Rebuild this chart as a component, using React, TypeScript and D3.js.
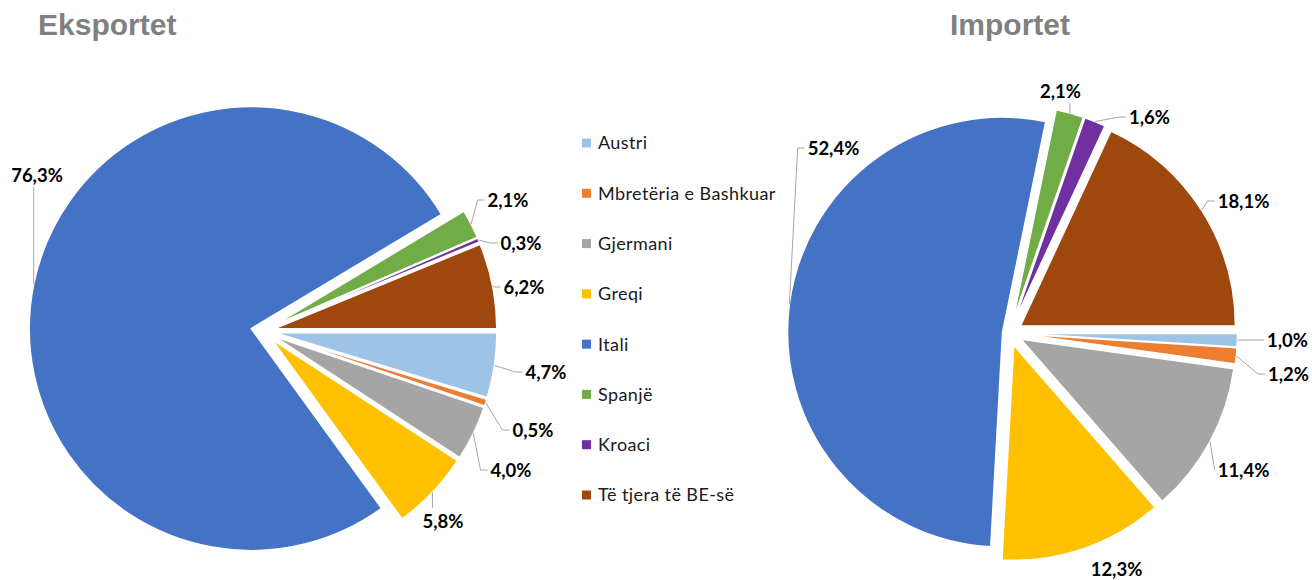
import React, { useEffect, useRef } from 'react';
import * as d3 from 'd3';

const categories = ['Austri', 'Mbretëria e Bashkuar', 'Gjermani', 'Greqi', 'Itali', 'Spanjë', 'Kroaci', 'Të tjera të BE-së'];
const sliceColors = ['#9DC3E6', '#ED7D31', '#A5A5A5', '#FFC000', '#4472C4', '#70AD47', '#7030A0', '#9E480E'];
const exportValues = [4.7, 0.5, 4.0, 5.8, 76.3, 2.1, 0.3, 6.2];
const importValues = [1.0, 1.2, 11.4, 12.3, 52.4, 2.1, 1.6, 18.1];

// label placement relative to pie centre: [dx, dy, leader mode]
const exportLabelPos = [[283, 41, 'h'], [270, 99, 'h'], [248, 139, 'h'], [180, 190, 'v'], [-226, -156, 'v'], [245, -131, 'h'], [258, -88, 'h'], [261, -44, 'h']];
const importLabelPos = [[278, 7, 'h'], [279, 41, 'h'], [234, 137, 'h'], [107, 236, 'none'], [-176, -185, 'h'], [51, -242, 'v'], [140, -216, 'h'], [234, -132, 'h']];

const W = 1312;
const H = 580;

const fmt = (v: number) => v.toFixed(1).replace('.', ',') + '%';

function drawPie(svg: any, values: number[], opts: any) {
    const { cx, cy, r, explode, labelPos } = opts;
    const g = svg.append('g').attr('transform', `translate(${cx},${cy})`);

    const pie = d3.pie<number>()
        .sort(null)
        .value(d => d)
        .startAngle(Math.PI / 2)
        .endAngle(Math.PI / 2 + 2 * Math.PI);
    const arc = d3.arc<any>().innerRadius(0).outerRadius(r);
    const arcs = pie(values);

    arcs.forEach((a, i) => {
        const mid = (a.startAngle + a.endAngle) / 2;
        const ex = explode[i];
        g.append('path')
            .attr('d', arc(a))
            .attr('transform', `translate(${Math.sin(mid) * ex},${-Math.cos(mid) * ex})`)
            .attr('fill', sliceColors[i])
            .attr('stroke', '#fff')
            .attr('stroke-width', 1.5);
    });

    arcs.forEach((a, i) => {
        const mid = (a.startAngle + a.endAngle) / 2;
        const ex = explode[i];
        const p0 = [Math.sin(mid) * (r + ex), -Math.cos(mid) * (r + ex)];
        const [lx, ly, mode] = labelPos[i];

        const text = g.append('text')
            .attr('x', lx)
            .attr('y', ly)
            .attr('dy', '0.36em')
            .attr('text-anchor', 'middle')
            .style('font-family', 'Lato, "Open Sans", sans-serif')
            .style('font-weight', 700)
            .style('font-size', '18.5px')
            .attr('fill', '#000')
            .text(fmt(values[i]));

        const bb = (text.node() as SVGTextElement).getBBox();
        let pts: number[][] = [];
        if (mode === 'h') {
            const left = bb.x - 3;
            const elbowX = bb.x - 10;
            if (elbowX > p0[0]) pts = [p0, [elbowX, ly], [left, ly]];
            else pts = [p0, [left, ly]];
        } else if (mode === 'v') {
            if (ly < p0[1]) pts = [p0, [p0[0], bb.y + bb.height + 1]];
            else pts = [p0, [p0[0], bb.y - 2]];
        }
        if (pts.length) {
            g.insert('path', 'text')
                .attr('d', d3.line()(pts as [number, number][]))
                .attr('fill', 'none')
                .attr('stroke', '#A6A6A6')
                .attr('stroke-width', 1);
        }
    });
}

export default function App() {
    const svgRef = useRef<SVGSVGElement>(null);

    useEffect(() => {
        const svg = d3.select(svgRef.current);
        svg.selectAll('*').remove();

        svg.append('rect').attr('width', W).attr('height', H).attr('fill', '#fff');

        // titles
        svg.append('text')
            .attr('x', 38).attr('y', 35)
            .style('font-family', '"Liberation Sans", Arial, sans-serif')
            .style('font-weight', 700).style('font-size', '30px')
            .attr('fill', '#808080')
            .text('Eksportet');
        svg.append('text')
            .attr('x', 950).attr('y', 35)
            .style('font-family', '"Liberation Sans", Arial, sans-serif')
            .style('font-weight', 700).style('font-size', '30px')
            .attr('fill', '#808080')
            .text('Importet');

        drawPie(svg, exportValues, {
            cx: 263, cy: 331, r: 222,
            explode: [12, 12, 12, 12, 12, 12, 12, 12],
            labelPos: exportLabelPos
        });
        drawPie(svg, importValues, {
            cx: 1009.5, cy: 333, r: 215,
            explode: [13, 13, 13, 13, 7, 13, 13, 13],
            labelPos: importLabelPos
        });

        // legend
        const yScale = d3.scalePoint<string>()
            .domain(categories)
            .range([143, 495]);
        const legend = svg.append('g');
        categories.forEach((c, i) => {
            const y = yScale(c) as number;
            legend.append('rect')
                .attr('x', 582).attr('y', y - 4.5)
                .attr('width', 9).attr('height', 9)
                .attr('fill', sliceColors[i]);
            legend.append('text')
                .attr('x', 598).attr('y', y)
                .attr('dy', '0.36em')
                .style('font-family', 'Lato, "Open Sans", sans-serif')
                .style('font-size', '18px')
                .style('letter-spacing', '0.4px')
                .attr('fill', '#1a1a1a')
                .text(c);
        });
    }, []);

    return (
        <div style={{ position: 'absolute', left: 0, top: 0 }}>
            <svg ref={svgRef} width={W} height={H} style={{ display: 'block' }} />
        </div>
    );
}
